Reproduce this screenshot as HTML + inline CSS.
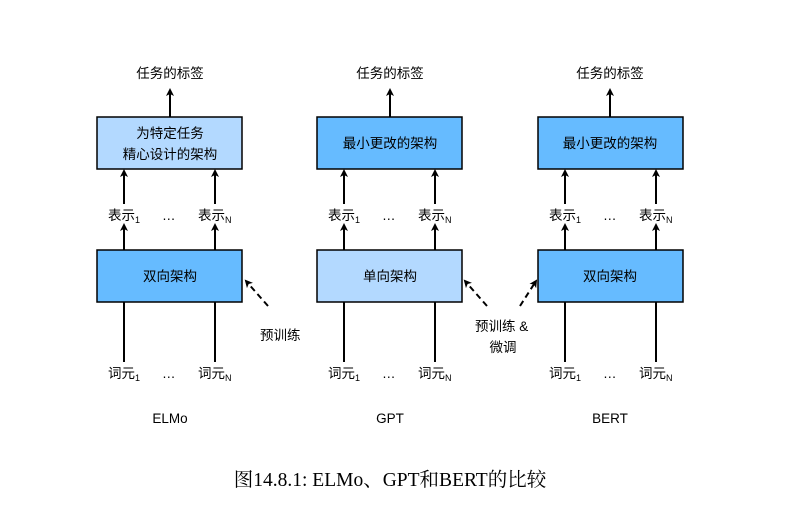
<!DOCTYPE html>
<html><head><meta charset="utf-8"><style>
body{margin:0;background:#fff;}
svg text{font-family:"Liberation Sans","Noto Sans CJK SC",sans-serif;font-size:13.5px;fill:#000;}
</style></head><body>
<svg width="799" height="501" viewBox="0 0 799 501" xmlns="http://www.w3.org/2000/svg">
<defs><marker id="a" markerWidth="8" markerHeight="8" refX="6" refY="4" orient="auto" markerUnits="userSpaceOnUse"><path d="M0,0 L8,4 L0,8 L2,4 z" fill="#000"/></marker></defs>
<g>
<text x="170" y="78" text-anchor="middle">任务的标签</text>
<line x1="170" y1="117" x2="170" y2="90" stroke="#000" stroke-width="2" marker-end="url(#a)"/>
<rect x="97" y="117" width="145" height="52" fill="#b3d9ff" stroke="#000" stroke-width="1.5"/>
<text x="170" y="138" text-anchor="middle">为特定任务</text>
<text x="170" y="159" text-anchor="middle">精心设计的架构</text>
</g>
<g>
<text x="390" y="78" text-anchor="middle">任务的标签</text>
<line x1="390" y1="117" x2="390" y2="90" stroke="#000" stroke-width="2" marker-end="url(#a)"/>
<rect x="317" y="117" width="145" height="52" fill="#66bbff" stroke="#000" stroke-width="1.5"/>
<text x="390" y="148" text-anchor="middle">最小更改的架构</text>
</g>
<g>
<text x="610" y="78" text-anchor="middle">任务的标签</text>
<line x1="610" y1="117" x2="610" y2="90" stroke="#000" stroke-width="2" marker-end="url(#a)"/>
<rect x="538" y="117" width="145" height="52" fill="#66bbff" stroke="#000" stroke-width="1.5"/>
<text x="610" y="148" text-anchor="middle">最小更改的架构</text>
</g>
<g id="c1">
<line x1="124" y1="204" x2="124" y2="171" stroke="#000" stroke-width="2" marker-end="url(#a)"/>
<line x1="215" y1="204" x2="215" y2="171" stroke="#000" stroke-width="2" marker-end="url(#a)"/>
<text x="108" y="220">表示<tspan font-size="9" dy="3">1</tspan></text>
<text x="162" y="220">…</text>
<text x="198" y="220">表示<tspan font-size="9" dy="3">N</tspan></text>
<line x1="124" y1="250" x2="124" y2="225" stroke="#000" stroke-width="2" marker-end="url(#a)"/>
<line x1="215" y1="250" x2="215" y2="225" stroke="#000" stroke-width="2" marker-end="url(#a)"/>
<line x1="124" y1="302" x2="124" y2="362" stroke="#000" stroke-width="2"/>
<line x1="215" y1="302" x2="215" y2="362" stroke="#000" stroke-width="2"/>
<text x="108" y="378">词元<tspan font-size="9" dy="3">1</tspan></text>
<text x="162" y="378">…</text>
<text x="198" y="378">词元<tspan font-size="9" dy="3">N</tspan></text>
</g>
<use href="#c1" x="220"/>
<use href="#c1" x="441"/>
<rect x="97" y="250" width="145" height="52" fill="#66bbff" stroke="#000" stroke-width="1.5"/>
<text x="170" y="281" text-anchor="middle">双向架构</text>
<rect x="317" y="250" width="145" height="52" fill="#b3d9ff" stroke="#000" stroke-width="1.5"/>
<text x="390" y="281" text-anchor="middle">单向架构</text>
<rect x="538" y="250" width="145" height="52" fill="#66bbff" stroke="#000" stroke-width="1.5"/>
<text x="610" y="281" text-anchor="middle">双向架构</text>
<line x1="268" y1="306" x2="246" y2="281" stroke="#000" stroke-width="2" stroke-dasharray="6,4" marker-end="url(#a)"/>
<line x1="487" y1="306" x2="465" y2="281" stroke="#000" stroke-width="2" stroke-dasharray="6,4" marker-end="url(#a)"/>
<line x1="520" y1="306" x2="536" y2="281" stroke="#000" stroke-width="2" stroke-dasharray="6,4" marker-end="url(#a)"/>
<text x="260" y="340">预训练</text>
<text x="475" y="331">预训练 &amp;</text>
<text x="503" y="352" text-anchor="middle">微调</text>
<text x="170" y="423" text-anchor="middle">ELMo</text>
<text x="390" y="423" text-anchor="middle">GPT</text>
<text x="610" y="423" text-anchor="middle">BERT</text>
<text x="390" y="486" text-anchor="middle" style="font-family:'Liberation Serif','Noto Serif CJK SC',serif;font-size:19.5px;">图14.8.1: ELMo、GPT和BERT的比较</text>
</svg>
</body></html>
